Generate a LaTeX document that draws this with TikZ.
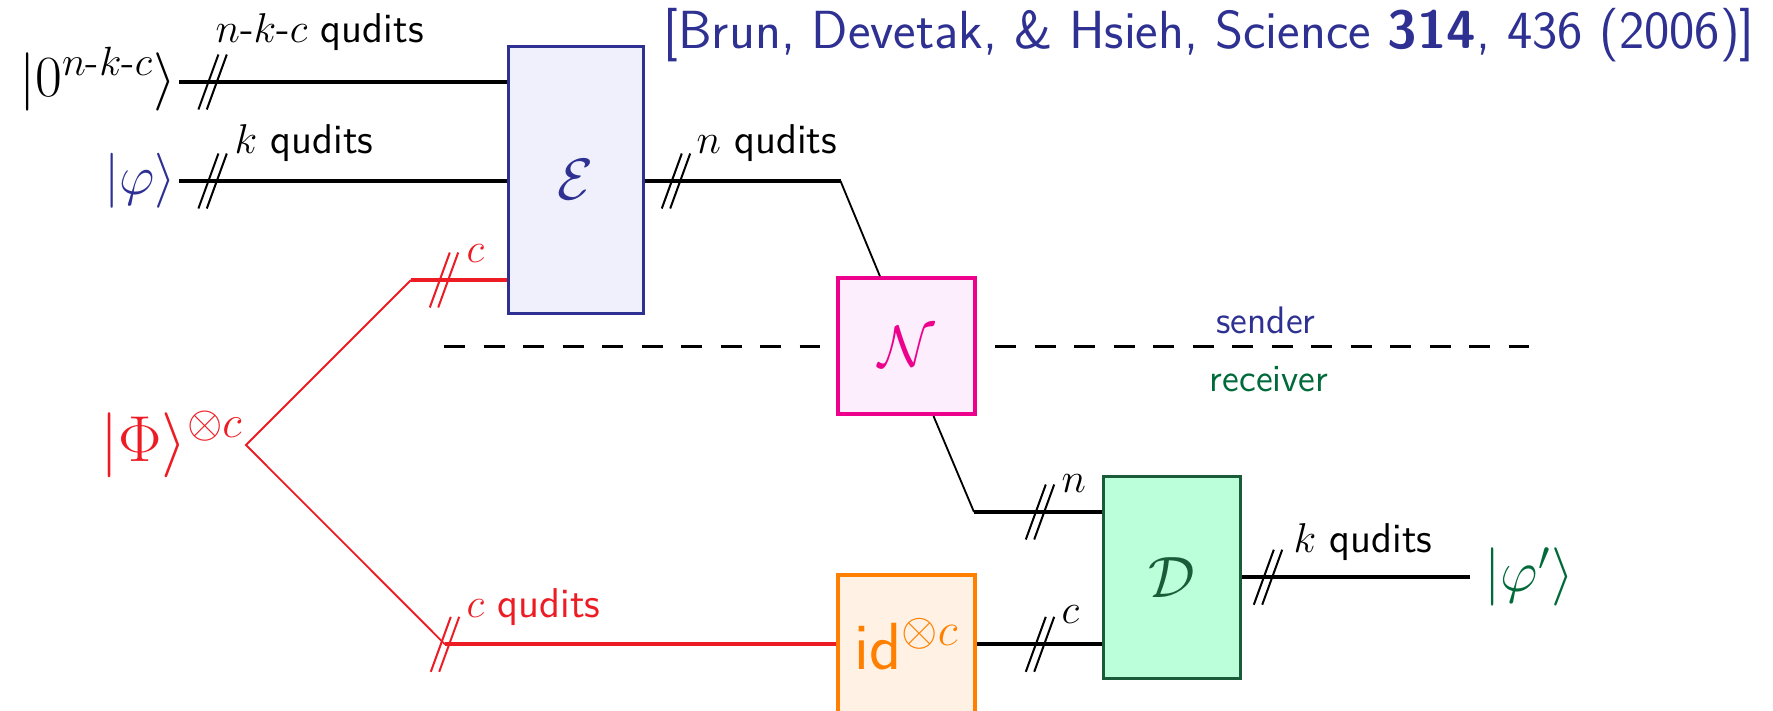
\RequirePackage{fix-cm}
\documentclass[tikz,border=0pt]{standalone}
\usepackage{amsmath,amssymb}
\usetikzlibrary{calc}

\definecolor{qblue}{HTML}{2E3192}
\definecolor{qred}{HTML}{ED1C24}
\definecolor{qmag}{HTML}{EC008C}
\definecolor{qorange}{HTML}{FF8000}
\definecolor{qgreen}{HTML}{006A3A}
\definecolor{dgreen}{HTML}{1A5C3A}
\definecolor{efill}{HTML}{F0F0FC}
\definecolor{nfill}{HTML}{FDEEFD}
\definecolor{dfill}{HTML}{BAFFDA}
\definecolor{idfill}{HTML}{FFF1E4}

\tikzset{
  wire/.style={line width=1.1pt},
  thinwire/.style={line width=0.55pt},
  gate/.style={draw, inner sep=0pt, font=\fontsize{17.5}{20}\selectfont},
  ket/.style={inner sep=0pt, anchor=base east, yshift=-4.4pt, font=\fontsize{17.5}{20}\selectfont},
  ketr/.style={ket, anchor=base west},
  lbl/.style={inner sep=0pt, anchor=base west, font=\sffamily\fontsize{12.5}{15}\selectfont},
  divider/.style={line width=0.8pt, dash pattern=on 6.3pt off 5.55pt},
  bundle/.pic={
    \draw[line width=0.6pt] (-14.2,27.5) -- (5.8,-27.5);
    \draw[line width=0.6pt] (-5.8,27.5) -- (14.2,-27.5);
  }
}

\begin{document}
\begin{tikzpicture}[x=0.3pt,y=-0.3pt]
\clip (0,0) rectangle (1773,710);

% gates
\node[gate, draw=qblue, fill=efill, line width=0.9pt, text=qblue,
      minimum width=40.4pt, minimum height=79.9pt] (E) at (575.7,180) {$\mathcal{E}$};
\node[gate, draw=qmag, fill=nfill, line width=1.2pt, text=qmag,
      minimum width=41pt, minimum height=40.7pt] (N) at (906.7,346.2) {$\mathcal{N}$};
\node[gate, draw=dgreen, fill=dfill, line width=0.9pt, text=dgreen,
      minimum width=41.2pt, minimum height=60.7pt] (D) at (1172,577.2) {$\mathcal{D}$};
\node[gate, draw=qorange, fill=idfill, line width=1.2pt, text=qorange,
      minimum width=41pt, minimum height=41.6pt] (id) at (906.7,644.3)
      {\fontsize{20}{23}\selectfont\sffamily id$^{\otimes c}$};

% input states
\coordinate (a1) at (179,82);
\coordinate (a2) at (179,181);
\node[ket] (k0) at (177,82) {$|0^{n\text{-}k\text{-}c}\rangle$};
\node[ket, text=qblue, yshift=0.3pt, font=\fontsize{16.5}{19}\selectfont] (kphi) at (177,181) {$|\varphi\rangle$};
\draw[wire] (a1) -- (a1 -| E.west);
\draw[wire] (a2) -- (a2 -| E.west);
\pic at (212.6,82) {bundle};
\pic at (212.6,181) {bundle};
\node[lbl] (l1) at (215,42) {$n$-$k$-$c$ qudits};
\node[lbl] (l2) at (234,153) {$k$ qudits};

% shared entanglement
\coordinate (rv) at (246,445);
\coordinate (ru) at (411,280);
\coordinate (rl) at (445,644.3);
\node[ket, text=qred, yshift=-0.5pt, font=\fontsize{19.5}{22}\selectfont] (kPhi) at (244,445) {$|\Phi\rangle^{\otimes c}$};
\draw[thinwire, qred] (ru) -- (rv) -- (rl);
\draw[wire, qred] (ru) -- (ru -| E.west);
\draw[wire, qred] (rl) -- (id.west);
\pic[color=qred] at (444,280) {bundle};
\pic[color=qred] at (445,644.3) {bundle};
\node[lbl, text=qred] (l4) at (466,262) {$c$};
\node[lbl, text=qred] (l5) at (466,617) {$c$ qudits};

% encoder output into the channel
\coordinate (eo) at (840.5,181);
\coordinate (nt) at (880,0);
\draw[wire] (E.east |- eo) -- (eo);
\draw[thinwire] (eo) -- (nt |- N.north);
\pic at (676,181) {bundle};
\node[lbl] (l3) at (696,153) {$n$ qudits};

% channel output into the decoder
\coordinate (nb) at (933.5,0);
\coordinate (nd) at (974,512);
\draw[thinwire] (nb |- N.south) -- (nd);
\draw[wire] (nd) -- (nd -| D.west);
\pic at (1040,512) {bundle};
\node[lbl] (l6) at (1061,492) {$n$};

\draw[wire] (id.east) -- (id.east -| D.west);
\pic at (1040,644.3) {bundle};
\node[lbl] (l7) at (1061,623) {$c$};

% decoder output
\coordinate (fo) at (1470,0);
\draw[wire] (D.east) -- (D.east -| fo);
\pic at (1268,577.2) {bundle};
\node[lbl] (l8) at (1293,552) {$k$ qudits};
\node[ketr, text=qgreen] (kout) at (1484,577.2) {$|\varphi'\rangle$};

% sender / receiver boundary
\coordinate (sl) at (444,346.5);
\coordinate (sr) at (1529,346.5);
\draw[divider, shorten >=4.8pt] (sl) -- (sl -| N.west);
\draw[divider, shorten <=5.4pt] (sl -| N.east) -- (sr);
\node[inner sep=0pt, text=qblue, font=\sffamily\fontsize{11.5}{14}\selectfont] (snd) at (1266,320) {sender};
\node[inner sep=0pt, text=qgreen, font=\sffamily\fontsize{11.5}{14}\selectfont] (rcv) at (1269,379) {receiver};

% reference
\node[inner sep=0pt, anchor=base, text=qblue, font=\sffamily\fontsize{16.1}{19}\selectfont] (ttl) at (1209,48)
  {[Brun, Devetak, \& Hsieh, Science \textbf{314}, 436 (2006)]};
\end{tikzpicture}
\end{document}
